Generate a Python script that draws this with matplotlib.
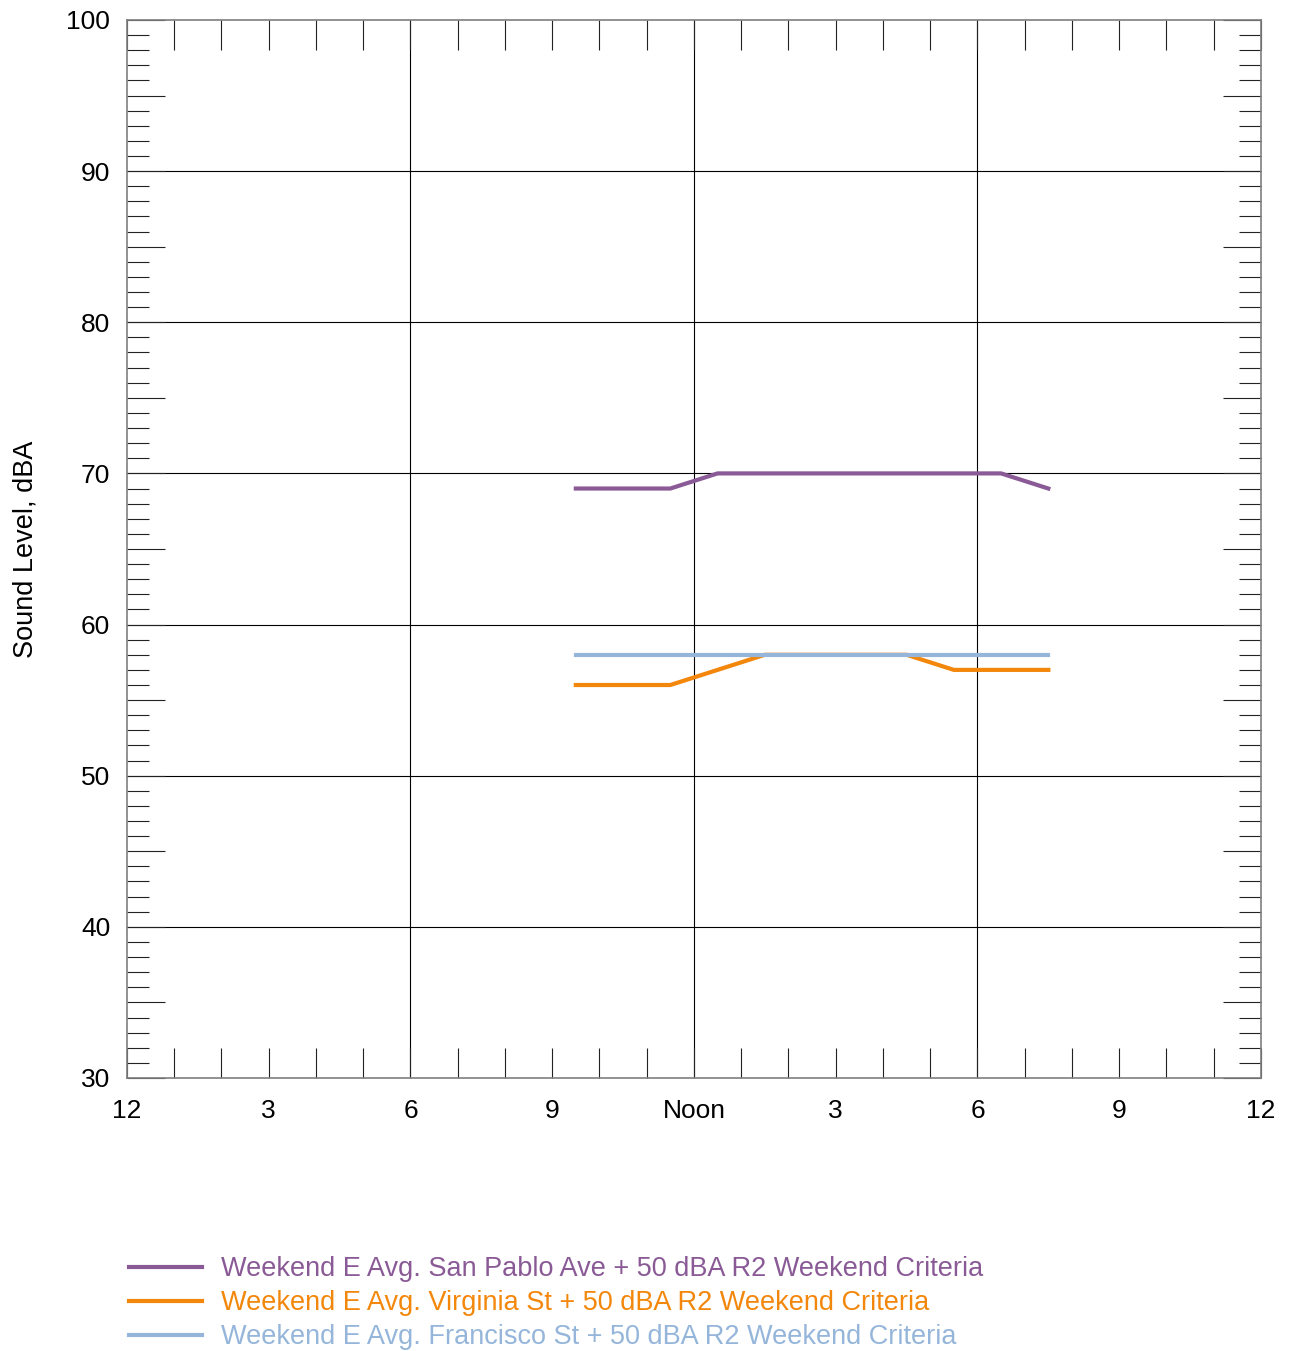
import matplotlib.pyplot as plt
from matplotlib.ticker import MultipleLocator

plt.rcParams['font.family'] = ['Liberation Sans', 'DejaVu Sans']

hours = [9.5, 10.5, 11.5, 12.5, 13.5, 14.5, 15.5, 16.5, 17.5, 18.5, 19.5]
san_pablo = [69, 69, 69, 70, 70, 70, 70, 70, 70, 70, 69]
virginia = [56, 56, 56, 57, 58, 58, 58, 58, 57, 57, 57]
francisco = [58, 58, 58, 58, 58, 58, 58, 58, 58, 58, 58]

labels = ["Weekend E Avg. San Pablo Ave + 50 dBA R2 Weekend Criteria",
          "Weekend E Avg. Virginia St + 50 dBA R2 Weekend Criteria",
          "Weekend E Avg. Francisco St + 50 dBA R2 Weekend Criteria"]
colors = ["#8A5A96", "#F3870B", "#95B6DA"]

xtick_pos = [0, 3, 6, 9, 12, 15, 18, 21, 24]
xtick_lab = ["12", "3", "6", "9", "Noon", "3", "6", "9", "12"]

fig = plt.figure(figsize=(12.9, 13.51), dpi=100)
ax = fig.add_axes([0.0984, 0.2021, 0.8791, 0.7831])

# grid lines
for gx in [6, 12, 18]:
    ax.axvline(gx, color="black", lw=0.8, zorder=1)
for gy in range(40, 100, 10):
    ax.axhline(gy, color="black", lw=0.8, zorder=1)

for ys, c, lab in zip([san_pablo, virginia, francisco], colors, labels):
    ax.plot(hours, ys, color=c, lw=3.0, label=lab, zorder=3)

ax.set_xlim(0, 24)
ax.set_ylim(30, 100)
ax.set_xticks(xtick_pos)
ax.set_xticklabels(xtick_lab)
ax.xaxis.set_minor_locator(MultipleLocator(1))
ax.yaxis.set_major_locator(MultipleLocator(5))
ax.yaxis.set_minor_locator(MultipleLocator(1))
ax.yaxis.set_major_formatter(lambda v, p: f"{int(v)}" if v % 10 == 0 else "")

ax.tick_params(axis="x", which="both", direction="in", top=True, bottom=True,
               length=21.5, width=0.8, color="#222222", labelsize=19, pad=15)
ax.tick_params(axis="y", which="major", direction="in", left=True, right=True,
               length=27.5, width=0.8, color="#222222", labelsize=19, pad=12)
ax.tick_params(axis="y", which="minor", direction="in", left=True, right=True,
               length=16, width=0.8, color="#222222")

for s in ax.spines.values():
    s.set_color("#7f7f7f")
    s.set_linewidth(1.2)

ax.set_ylabel("Sound Level, dBA", fontsize=19.5)
ax.yaxis.set_label_coords(-0.078, 0.5)

leg = fig.legend(loc="upper left", bbox_to_anchor=(0.0999, 0.0703), frameon=False,
                 fontsize=19.5, handlelength=2.7, handletextpad=0.7, labelspacing=0.30,
                 borderpad=0, borderaxespad=0, labelcolor="linecolor")

fig.savefig("out.png", dpi=100)
